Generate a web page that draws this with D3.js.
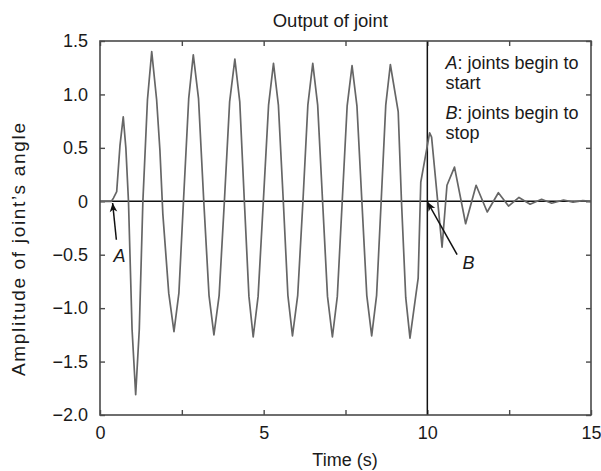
<!DOCTYPE html>
<html>
<head>
<meta charset="utf-8">
<script src="https://cdn.jsdelivr.net/npm/d3@7"></script>
<style>
  html, body { margin: 0; padding: 0; background: #fff; }
  svg { display: block; font-family: "Liberation Sans", Arial, Helvetica, sans-serif; }
</style>
</head>
<body>
<svg id="chart" width="601" height="471"></svg>
<script>
// Joint output: time (s) and amplitude of the joint's angle
const timeS = [
  0.00, 0.35, 0.41, 0.51, 0.61, 0.71, 0.79, 0.87, 0.98, 1.09,
  1.20, 1.31, 1.45, 1.58, 1.73, 1.83, 1.92, 2.10, 2.26, 2.41,
  2.55, 2.71, 2.85, 3.01, 3.17, 3.33, 3.48, 3.64, 3.80, 3.96,
  4.12, 4.27, 4.41, 4.55, 4.68, 4.83, 4.99, 5.15, 5.30, 5.45,
  5.60, 5.74, 5.88, 6.04, 6.20, 6.35, 6.50, 6.65, 6.80, 6.95,
  7.10, 7.25, 7.40, 7.55, 7.70, 7.85, 8.00, 8.15, 8.30, 8.45,
  8.59, 8.73, 8.87, 9.11, 9.21, 9.34, 9.47, 9.72, 9.80, 10.07,
  10.13, 10.45, 10.60, 10.83, 11.17, 11.49, 11.83, 12.17, 12.48, 12.80,
  13.14, 13.49, 13.80, 14.16, 14.45, 14.75, 15.00
];
const angleAmp = [
  0.00, 0.00, 0.03, 0.09, 0.52, 0.79, 0.50, 0.00, -1.20, -1.81,
  -1.20, 0.00, 0.95, 1.40, 0.95, 0.48, -0.12, -0.86, -1.22, -0.86,
  0.00, 0.96, 1.37, 0.96, 0.00, -0.88, -1.25, -0.88, 0.00, 0.93,
  1.33, 0.93, 0.00, -0.89, -1.27, -0.89, 0.00, 0.90, 1.29, 0.90,
  0.00, -0.88, -1.26, -0.88, 0.00, 0.90, 1.29, 0.90, 0.00, -0.89,
  -1.27, -0.89, 0.00, 0.89, 1.27, 0.89, 0.00, -0.88, -1.26, -0.88,
  0.00, 0.90, 1.28, 0.84, 0.00, -0.90, -1.28, -0.72, 0.18, 0.64,
  0.60, -0.43, 0.15, 0.32, -0.21, 0.15, -0.10, 0.08, -0.045, 0.036,
  -0.027, 0.019, -0.018, 0.012, -0.008, 0.006, 0.000
];

const xTicks = [0, 2.5, 5, 7.5, 10, 12.5, 15];
const xTickLabels = ["0", "", "5", "", "10", "", "15"];
const yTicks = [1.5, 1.0, 0.5, 0, -0.5, -1.0, -1.5, -2.0];
const yTickLabels = ["1.5", "1.0", "0.5", "0", "\u22120.5", "\u22121.0", "\u22121.5", "\u22122.0"];

const startTime = 0.38;   // A: joints begin to start
const stopTime = 10;      // B: joints begin to stop

const svg = d3.select("#chart");
const margin = { left: 100, right: 10, top: 41, bottom: 56 };
const W = 601, H = 471;
const x = d3.scaleLinear().domain([0, 15]).range([margin.left, W - margin.right]);
const y = d3.scaleLinear().domain([-2.0, 1.5]).range([H - margin.bottom, margin.top]);

const frameColor = "#4a4a4a";

// Ticks on all four sides, pointing inward
function styleAxis(g) {
  g.select(".domain").remove();
  g.selectAll(".tick line").attr("stroke", frameColor).attr("stroke-width", 1.4);
  g.selectAll(".tick text").attr("fill", "#1a1a1a").style("font-size", "18px")
    .style("font-family", "'Liberation Sans', Arial, sans-serif");
}

svg.append("g").attr("transform", `translate(0,${y(-2.0)})`)
  .call(d3.axisBottom(x).tickValues(xTicks).tickSize(-5).tickPadding(11)
    .tickFormat((d, i) => xTickLabels[i]))
  .call(styleAxis);
svg.append("g").attr("transform", `translate(0,${y(1.5)})`)
  .call(d3.axisTop(x).tickValues(xTicks).tickSize(-5).tickFormat(""))
  .call(styleAxis);
svg.append("g").attr("transform", `translate(${x(0)},0)`)
  .call(d3.axisLeft(y).tickValues(yTicks).tickSize(-5).tickPadding(12)
    .tickFormat((d, i) => yTickLabels[i]))
  .call(styleAxis);
svg.append("g").attr("transform", `translate(${x(15)},0)`)
  .call(d3.axisRight(y).tickValues(yTicks).tickSize(-5).tickFormat(""))
  .call(styleAxis);

// Zero reference and stop instant
svg.append("line")
  .attr("x1", x(0)).attr("x2", x(15)).attr("y1", y(0)).attr("y2", y(0))
  .attr("stroke", "#111").attr("stroke-width", 1.5);
svg.append("line")
  .attr("x1", x(stopTime)).attr("x2", x(stopTime)).attr("y1", y(1.5)).attr("y2", y(-2.0))
  .attr("stroke", "#111").attr("stroke-width", 1.5);

// Joint angle trace
const pts = timeS.map((t, i) => [t, angleAmp[i]]);
svg.append("path")
  .datum(pts)
  .attr("fill", "none")
  .attr("stroke", "#666")
  .attr("stroke-width", 1.7)
  .attr("stroke-linejoin", "round")
  .attr("d", d3.line().x(d => x(d[0])).y(d => y(d[1])));

// Plot frame
svg.append("rect")
  .attr("x", x(0)).attr("y", y(1.5))
  .attr("width", x(15) - x(0)).attr("height", y(-2.0) - y(1.5))
  .attr("fill", "none").attr("stroke", frameColor).attr("stroke-width", 1.6);

// Arrowhead marker
svg.append("defs").append("marker")
  .attr("id", "arrowhead")
  .attr("viewBox", "-10 -5 12 10")
  .attr("refX", 0).attr("refY", 0)
  .attr("markerUnits", "userSpaceOnUse")
  .attr("markerWidth", 12).attr("markerHeight", 10)
  .attr("orient", "auto")
  .append("path")
  .attr("d", "M0,0 L-9,-3.8 L-6.5,0 L-9,3.8 Z")
  .attr("fill", "#111");

// Annotation arrows (tail -> tip)
const arrows = [
  { from: [0.50, -0.36], to: [startTime + 0.005, -0.016] },
  { from: [10.91, -0.50], to: [stopTime + 0.006, -0.007] }
];
svg.selectAll(".arrow").data(arrows).join("line")
  .attr("class", "arrow")
  .attr("x1", d => x(d.from[0])).attr("y1", d => y(d.from[1]))
  .attr("x2", d => x(d.to[0])).attr("y2", d => y(d.to[1]))
  .attr("stroke", "#111").attr("stroke-width", 1.5)
  .attr("marker-end", "url(#arrowhead)");

const arrowLabels = [
  { text: "A", at: [0.596, -0.565] },
  { text: "B", at: [11.26, -0.633] }
];
svg.selectAll(".alabel").data(arrowLabels).join("text")
  .attr("class", "alabel")
  .attr("x", d => x(d.at[0])).attr("y", d => y(d.at[1]))
  .attr("text-anchor", "middle")
  .style("font-size", "18px").style("font-style", "italic")
  .attr("fill", "#1a1a1a")
  .text(d => d.text);

// Notes: each wrapped over two lines
const notes = [
  { key: "A", lines: [": joints begin to", "start"], y: 68.5 },
  { key: "B", lines: [": joints begin to", "stop"], y: 118.8 }
];
const noteX = 445.5, noteLine = 20.4;
notes.forEach(n => {
  const t = svg.append("text")
    .attr("x", noteX).attr("y", n.y)
    .style("font-size", "18px").attr("fill", "#1a1a1a");
  t.append("tspan").style("font-style", "italic").text(n.key);
  t.append("tspan").text(n.lines[0]);
  svg.append("text")
    .attr("x", noteX).attr("y", n.y + noteLine)
    .style("font-size", "18px").attr("fill", "#1a1a1a")
    .text(n.lines[1]);
});

// Title and axis titles
svg.append("text")
  .attr("x", 330.3).attr("y", 27)
  .attr("text-anchor", "middle")
  .style("font-size", "18.5px").attr("fill", "#1a1a1a")
  .text("Output of joint");

svg.append("text")
  .attr("x", 345).attr("y", 466)
  .attr("text-anchor", "middle")
  .style("font-size", "18px").attr("fill", "#1a1a1a")
  .text("Time (s)");

svg.append("text")
  .attr("transform", "translate(25,249.5) rotate(-90)")
  .attr("text-anchor", "middle")
  .attr("textLength", 253).attr("lengthAdjust", "spacing")
  .style("font-size", "19px").attr("fill", "#1a1a1a")
  .text("Amplitude of joint\u2019s angle");
</script>
</body>
</html>
